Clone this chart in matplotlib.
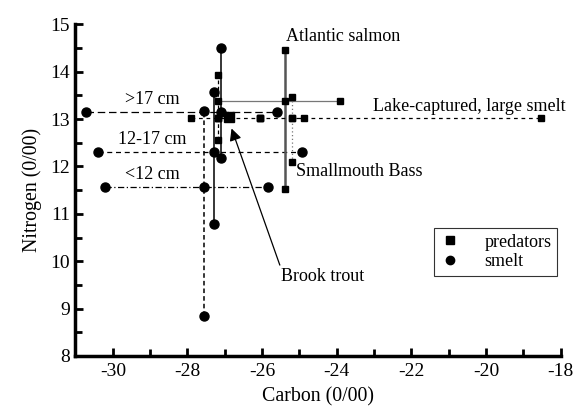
import numpy as np
import matplotlib
matplotlib.use('Agg')
import matplotlib.pyplot as plt
from matplotlib.ticker import MultipleLocator
from matplotlib.lines import Line2D

plt.rcParams['font.family'] = ['Liberation Serif', 'DejaVu Serif']
plt.rcParams['axes.unicode_minus'] = False

# smelt size classes: centre, x-range, y-range
smelt_labels = ['>17 cm', '12-17 cm', '<12 cm']
smelt_cx = [-27.10, -27.30, -27.56]
smelt_cy = [13.15, 12.30, 11.57]
smelt_xmin = [-30.73, -30.40, -30.22]
smelt_xmax = [-25.60, -24.94, -25.85]
smelt_ymin = [12.17, 10.79, 8.84]
smelt_ymax = [14.50, 13.57, 13.16]

# predators: Atlantic salmon, Smallmouth Bass, Brook trout, lake-captured
pred_cx = [-25.38, -25.20, -27.18, -26.07]
pred_cy = [13.37, 13.02, 13.02, 13.02]
pred_xmin = [-27.18, -25.20, -27.18, -27.90]
pred_xmax = [-23.91, -24.87, -27.18, -18.53]
pred_ymin = [11.52, 12.10, 12.56, 13.02]
pred_ymax = [14.45, 13.46, 13.92, 13.02]

brook_x, brook_y = -26.90, 13.04

fig = plt.figure(figsize=(5.74, 4.09), dpi=100)
ax = fig.add_axes([0.1315, 0.1296, 0.8455, 0.8112])

# smelt lines
h_styles = [(0, (6, 3)), (0, (4, 3)), (0, (5, 2, 1, 2))]
v_styles = ['-', '-', (0, (3, 2))]
for i in range(3):
    ax.plot([smelt_xmin[i], smelt_xmax[i]], [smelt_cy[i]] * 2, color='k', lw=0.9, ls=h_styles[i], zorder=2)
    ax.plot([smelt_cx[i]] * 2, [smelt_ymin[i], smelt_ymax[i]], color='k', lw=1.1, ls=v_styles[i], zorder=2)

# predator lines
ph_styles = ['-', (0, (3, 3)), '-', (0, (3, 3))]
ph_colors = ['#777777', 'k', 'k', 'k']
pv_styles = ['-', (0, (1, 2)), (0, (3, 2)), '-']
pv_colors = ['#555555', '#777777', 'k', 'k']
pv_lw = [1.8, 0.9, 0.9, 0.9]
for i in range(4):
    ax.plot([pred_xmin[i], pred_xmax[i]], [pred_cy[i]] * 2, color=ph_colors[i], lw=0.9, ls=ph_styles[i], zorder=2)
    ax.plot([pred_cx[i]] * 2, [pred_ymin[i], pred_ymax[i]], color=pv_colors[i], lw=pv_lw[i], ls=pv_styles[i], zorder=2)

# markers
sx = smelt_cx + smelt_xmin + smelt_xmax + smelt_cx + smelt_cx
sy = smelt_cy + smelt_cy + smelt_cy + smelt_ymin + smelt_ymax
ax.plot(sx, sy, 'o', color='k', ms=6.5, ls='none', zorder=4)

px = pred_cx + pred_xmin + pred_xmax + pred_cx + pred_cx
py = pred_cy + pred_cy + pred_cy + pred_ymin + pred_ymax
ax.plot(px, py, 's', color='k', ms=4.2, ls='none', zorder=3)
ax.plot([brook_x], [brook_y], 's', color='k', ms=6.5, zorder=5)

# text labels
for i, lab in enumerate(smelt_labels):
    ax.text(-28.95, smelt_cy[i] + 0.08, lab, ha='center', va='bottom', fontsize=13)
ax.text(-25.35, 14.74, 'Atlantic salmon', ha='left', va='center', fontsize=13)
ax.text(-23.02, 13.26, 'Lake-captured, large smelt', ha='left', va='center', fontsize=13)
ax.text(-25.10, 11.89, 'Smallmouth Bass', ha='left', va='center', fontsize=13)
ax.annotate('Brook trout', xy=(-26.82, 12.80), xytext=(-25.50, 9.68),
            ha='left', va='center', fontsize=13,
            arrowprops=dict(arrowstyle='-|>', color='k', lw=0.9, mutation_scale=18,
                            shrinkA=0, shrinkB=0, relpos=(0.0, 1.0)))

handles = [Line2D([], [], marker='s', color='k', ls='none', ms=5.5),
           Line2D([], [], marker='o', color='k', ls='none', ms=6)]
leg = ax.legend(handles, ['predators', 'smelt'], loc='upper left', bbox_to_anchor=(0.738, 0.385),
                frameon=True, fancybox=False, edgecolor='k', fontsize=13,
                handlelength=1.2, handletextpad=1.3, borderpad=0.3, labelspacing=0.15,
                borderaxespad=0)
leg.get_frame().set_linewidth(0.8)

ax.set_xlim(-31, -18)
ax.set_ylim(8, 15)
ax.xaxis.set_major_locator(MultipleLocator(2))
ax.xaxis.set_minor_locator(MultipleLocator(1))
ax.yaxis.set_major_locator(MultipleLocator(1))
ax.yaxis.set_minor_locator(MultipleLocator(0.5))
ax.tick_params(which='both', direction='in', width=2, labelsize=14)
ax.tick_params(axis='x', pad=5)
ax.tick_params(axis='y', pad=4)
ax.tick_params(which='major', length=6)
ax.tick_params(which='minor', length=5)
for s in ['top', 'right']:
    ax.spines[s].set_visible(False)
for s in ['left', 'bottom']:
    ax.spines[s].set_linewidth(2.5)

ax.set_xlabel('Carbon (0/00)', fontsize=14.3, labelpad=5)
ax.set_ylabel('Nitrogen (0/00)', fontsize=14.3, labelpad=6)

fig.savefig('out.png', dpi=100)
